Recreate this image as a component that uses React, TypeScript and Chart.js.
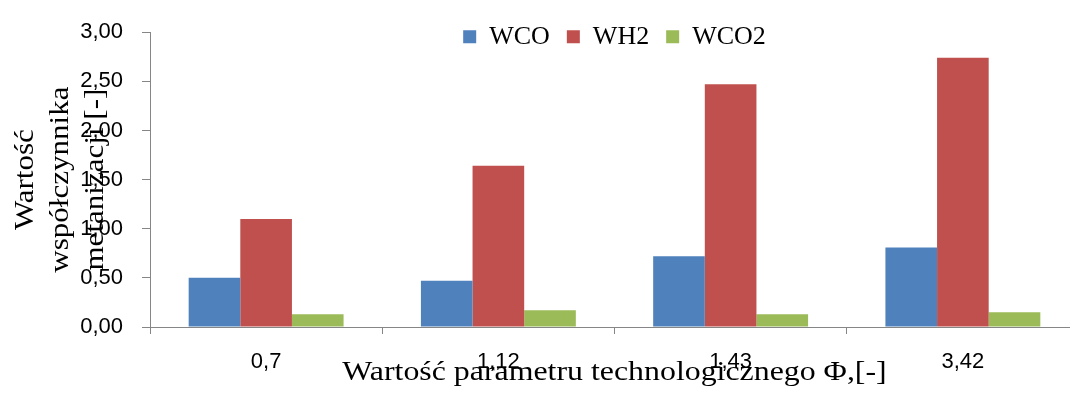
import React, { useEffect, useRef } from "react";
import { Chart, registerables } from "chart.js";

Chart.register(...registerables);

const categories = ["0,7", "1,12", "1,43", "3,42"];
const seriesNames = ["WCO", "WH2", "WCO2"];
const wcoValues = [0.5, 0.47, 0.72, 0.81];
const wh2Values = [1.1, 1.64, 2.47, 2.74];
const wco2Values = [0.13, 0.17, 0.13, 0.15];
const seriesColors = ["#4F81BD", "#C0504D", "#9BBB59"];
const yTickLabels = ["0,00", "0,50", "1,00", "1,50", "2,00", "2,50", "3,00"];
const yTitleLines = ["Wartość", "współczynnika", "metanizacji [-]"];
const xTitle = "Wartość parametru technologicznego Φ,[-]";

const AXIS_COLOR = "#868686";

const titlesPlugin = {
  id: "stretchedTitles",
  beforeLayout(chart: any) {
    const lg = chart.legend;
    if (lg && !lg.__flat) {
      const origFit = lg.fit.bind(lg);
      lg.fit = function () {
        origFit();
        this.__realHeight = this.height;
        this.height = 0;
      };
      lg.__flat = true;
    }
  },
  afterLayout(chart: any) {
    const lg = chart.legend;
    if (lg) {
      const h = lg.__realHeight || 60;
      lg.top -= 25.5;
      lg.height = h;
      lg.bottom = lg.top + h;
    }
  },
  afterDraw(chart: any) {
    const { ctx, chartArea } = chart;
    ctx.save();
    ctx.fillStyle = "#000";
    ctx.font = '27px "Liberation Serif"';
    ctx.textAlign = "center";
    ctx.textBaseline = "alphabetic";
    const cy = (chartArea.top + chartArea.bottom) / 2;
    yTitleLines.forEach((line, i) => {
      ctx.save();
      ctx.translate(chartArea.left - 117 + i * 35, cy);
      ctx.rotate(-Math.PI / 2);
      ctx.scale(1.15, 1);
      ctx.fillText(line, 0, 0);
      ctx.restore();
    });
    ctx.save();
    ctx.translate((chartArea.left + chartArea.right) / 2, chartArea.bottom + 53);
    ctx.scale(1.18, 1);
    ctx.fillText(xTitle, 0, 0);
    ctx.restore();
    ctx.restore();
  },
};

export default function App() {
  const canvasRef = useRef<HTMLCanvasElement | null>(null);

  useEffect(() => {
    if (!canvasRef.current) return;
    const values = [wcoValues, wh2Values, wco2Values];
    const chart = new Chart(canvasRef.current, {
      type: "bar",
      data: {
        labels: categories,
        datasets: seriesNames.map((name, i) => ({
          label: name,
          data: values[i],
          backgroundColor: seriesColors[i],
          borderWidth: 0,
          categoryPercentage: 0.667,
          barPercentage: 1,
        })),
      },
      options: {
        responsive: false,
        animation: false,
        layout: { padding: { left: 0, top: 21, right: 4, bottom: 0 } },
        plugins: {
          legend: {
            position: "top",
            align: "center",
            fullSize: false,
            labels: {
              boxWidth: 13,
              boxHeight: 13,
              padding: 17,
              color: "#000",
              font: { family: '"Liberation Serif"', size: 26 },
            },
          },
          tooltip: { enabled: false },
        },
        scales: {
          x: {
            grid: {
              display: true,
              drawOnChartArea: false,
              drawTicks: true,
              tickLength: 7,
              color: AXIS_COLOR,
              lineWidth: 1,
            },
            border: { display: true, color: AXIS_COLOR, width: 1 },
            ticks: {
              color: "#000",
              padding: 15,
              font: { family: '"Liberation Sans"', size: 22 },
              maxRotation: 0,
            },
            afterFit: (scale: any) => {
              scale.height = 67;
            },
          },
          y: {
            min: 0,
            max: 3,
            grid: {
              display: true,
              drawOnChartArea: false,
              drawTicks: true,
              tickLength: 8,
              color: AXIS_COLOR,
              lineWidth: 1,
            },
            border: { display: true, color: AXIS_COLOR, width: 1 },
            ticks: {
              stepSize: 0.5,
              color: "#000",
              padding: 19,
              font: { family: '"Liberation Sans"', size: 22 },
              callback: (value: any) => yTickLabels[Math.round(Number(value) / 0.5)],
            },
            afterFit: (scale: any) => {
              scale.width = 150;
            },
          },
        },
      },
      plugins: [titlesPlugin],
    });
    return () => chart.destroy();
  }, []);

  return (
    <div
      style={{
        position: "fixed",
        left: 0,
        top: 0,
        width: 1070,
        height: 394,
        overflow: "hidden",
        background: "#fff",
      }}
    >
      <canvas ref={canvasRef} width={1083} height={394} style={{ display: "block" }} />
    </div>
  );
}
